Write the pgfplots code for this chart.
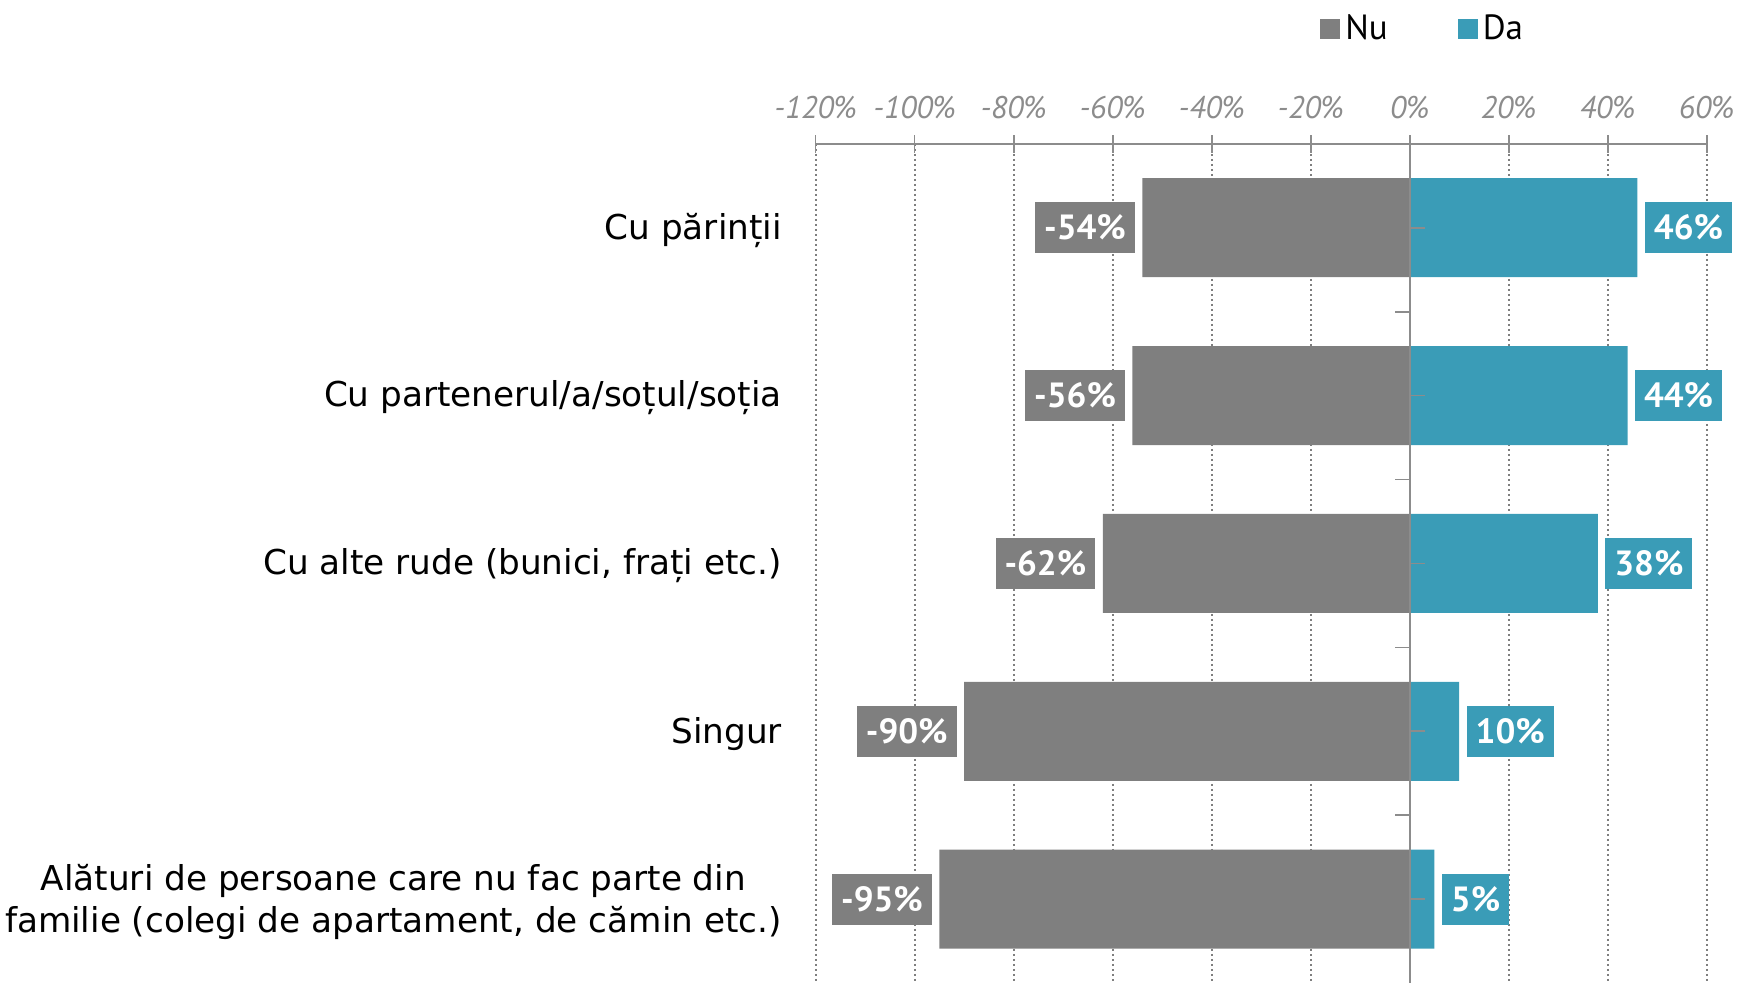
\documentclass[border=0pt]{standalone}
\usepackage{fontspec}
\setmainfont{PT Sans}
\newfontfamily\catfont{DejaVu Sans}
\usepackage{pgfplots}
\pgfplotsset{compat=1.18}
\definecolor{nugray}{HTML}{7F7F7F}
\definecolor{dateal}{HTML}{3A9CB7}
\definecolor{axgray}{HTML}{8C8C8C}
\begin{document}
\begin{tikzpicture}
\begin{axis}[
    scale only axis, width=356.4pt, height=335.7pt,
    xmin=-120, xmax=60, ymin=-0.5, ymax=4.5, y dir=reverse,
    axis x line*=top, axis y line*=left,
    y axis line style={draw=none},
    x axis line style={axgray, line width=0.9pt},
    xtick={-120,-100,...,60},
    tick align=center, major tick length=7pt,
    xtick style={axgray, line width=0.7pt},
    ytick style={draw=none},
    xmajorgrids, major grid style={nugray, dash pattern=on 0.8pt off 1.2pt, line width=0.8pt},
    xticklabel={\pgfmathprintnumber[assume math mode=true]{\tick}\%},
    xticklabel style={font=\fontsize{12.5}{14}\selectfont\itshape, text=axgray, yshift=2.8pt},
    ytick={0,1,2,3,4},
    yticklabels={{Cu părinții}, {Cu partenerul/a/soțul/soția}, {Cu alte rude (bunici, frați etc.)}, {Singur}, {Alături de persoane care nu fac parte din\\familie (colegi de apartament, de cămin etc.)}},
    yticklabel style={font=\catfont\fontsize{13.7}{16.8}\selectfont, align=center, xshift=-3pt, yshift=-1pt},
    xbar, bar width=0.59, bar shift=0pt,
    nodes near coords={\pgfmathprintnumber[assume math mode=true]{\pgfplotspointmeta}\%},
    point meta=x,
    every node near coord/.append style={font=\fontsize{14}{16}\selectfont\bfseries, text=white,
        minimum height=20.4pt, inner xsep=3.6pt},
    legend columns=2,
    legend style={draw=none, at={(0.683,1.137)}, anchor=center,
        font=\fontsize{14}{16}\selectfont,
        /tikz/every even column/.append style={column sep=26pt}},
    legend image code/.code={\fill[#1] (0pt,-4pt) rectangle (8pt,4pt);},
]
\addplot[fill=nugray, draw=none,
    every node near coord/.append style={fill=nugray, anchor=east, xshift=-2.8pt}]
    coordinates {(-54,0) (-56,1) (-62,2) (-90,3) (-95,4)};
\addlegendentry{Nu}
\addplot[fill=dateal, draw=none,
    every node near coord/.append style={fill=dateal, anchor=west, xshift=2.8pt}]
    coordinates {(46,0) (44,1) (38,2) (10,3) (5,4)};
\addlegendentry{Da}
\draw[axgray, line width=0.8pt] (axis cs:0,-0.5) -- (axis cs:0,4.5);
\pgfplotsinvokeforeach{0,1,2,3,4}{
  \draw[axgray, line width=0.7pt] (axis cs:0,#1) -- ([xshift=6pt]axis cs:0,#1);
}
\pgfplotsinvokeforeach{0.5,1.5,2.5,3.5}{
  \draw[axgray, line width=0.7pt] (axis cs:0,#1) -- ([xshift=-6pt]axis cs:0,#1);
}
\end{axis}
\pgfresetboundingbox
\path[use as bounding box] ([xshift=-326.2pt]current axis.south west) rectangle ([xshift=13.3pt,yshift=57.5pt]current axis.north east);
\end{tikzpicture}
\end{document}
